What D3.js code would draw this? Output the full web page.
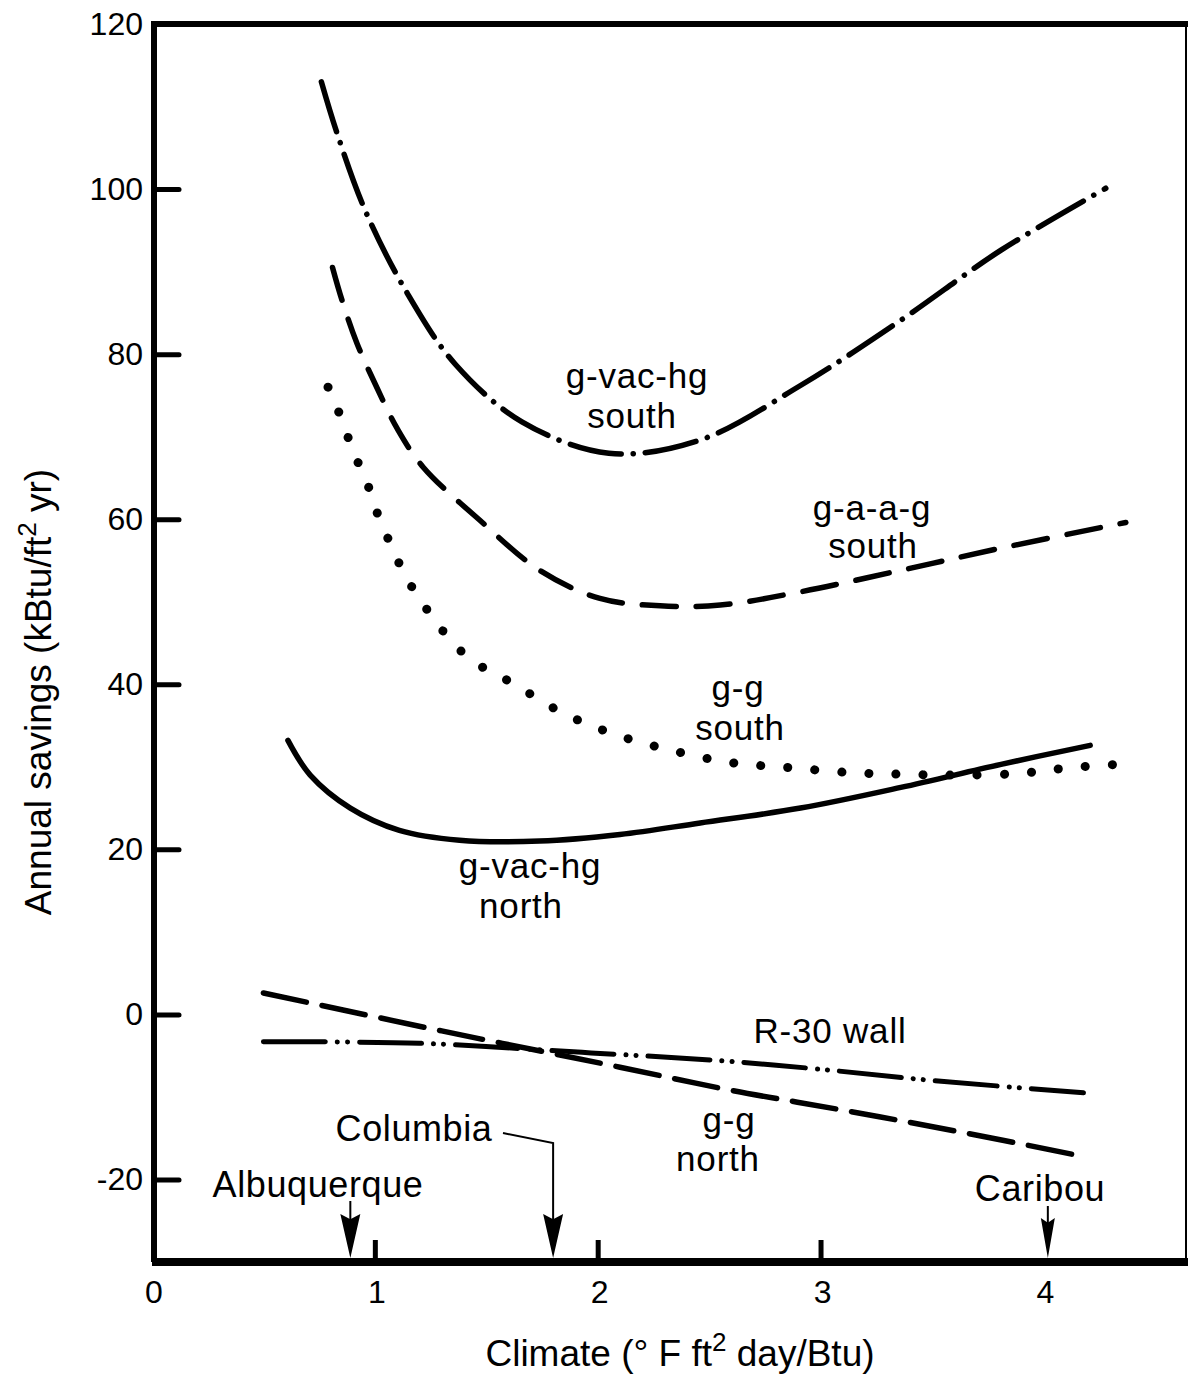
<!DOCTYPE html>
<html><head><meta charset="utf-8">
<script src="https://cdn.jsdelivr.net/npm/d3@7"></script>
<style>body{margin:0;background:#fff}svg{display:block}text{font-family:"Liberation Sans",Arial,sans-serif;fill:#000}</style>
</head><body><svg id="c" width="1188" height="1376"></svg>
<script>
// ---- data (x: climate °F ft² day/Btu, y: kBtu/ft² yr) ----
const yTicks = [100, 80, 60, 40, 20, 0, -20];
const yTickLabels = ["120", "100", "80", "60", "40", "20", "0", "-20"];
const yTickLabelValues = [120, 100, 80, 60, 40, 20, 0, -20];
const xTicks = [1, 2, 3];
const xTickLabels = ["0", "1", "2", "3", "4"];
const xTickLabelValues = [0, 1, 2, 3, 4];
const gVacHgSouth = [[0.76,113],[0.83,106.8],[0.96,97.2],[1.145,87.4],[1.36,78.8],[1.66,71.8],[2.05,68.0],[2.46,69.6],[2.91,76.2],[3.36,84.1],[3.81,92.6],[4.28,100.1]];
const gAagSouth = [[0.81,90.5],[0.853,86.5],[0.92,81.3],[1.01,75.9],[1.10,71.0],[1.217,66.3],[1.47,59.9],[1.74,53.8],[2.01,50.4],[2.28,49.5],[2.55,49.6],[2.91,51.2],[3.36,53.8],[3.81,56.5],[4.37,59.6]];
const ggSouth = [[0.79,76.0],[0.83,73.5],[0.87,70.8],[0.90,68.1],[0.95,65.6],[1.0,61.5],[1.07,57],[1.14,53],[1.23,49.2],[1.32,46],[1.43,43],[1.62,40.1],[1.845,36.5],[2.08,33.9],[2.33,32.0],[2.6,30.5],[2.86,29.9],[3.13,29.3],[3.37,29.1],[3.61,29.0],[3.89,29.2],[4.12,29.9],[4.34,30.3]];
const gVacHgNorth = [[0.61,33.2],[0.71,29.0],[0.89,25.0],[1.11,22.3],[1.38,21.1],[1.74,21.0],[2.1,21.8],[2.46,23.2],[2.91,25.0],[3.36,27.5],[3.81,30.3],[4.21,32.6]];
const ggNorth = [[0.5,2.6],[1.3,-2.0],[2.1,-6.4],[2.6,-9.2],[3.1,-11.6],[3.6,-14.1],[4.14,-17.0]];
const r30Wall = [[0.5,-3.3],[1.2,-3.5],[1.93,-4.6],[2.55,-5.6],[2.98,-6.6],[3.5,-8.0],[4.18,-9.5]];
const cityNames = ["Albuquerque", "Columbia", "Caribou"];
const cityClimate = [0.89, 1.80, 4.02];

const svg = d3.select("#c");
const x = d3.scaleLinear().domain([0, 4.64]).range([152, 1186]);
const y = d3.scaleLinear().domain([-30, 120]).range([1262, 24]);

const line = d3.line().x(d=>x(d[0])).y(d=>y(d[1])).curve(d3.curveCatmullRom.alpha(0.5));

function curve(data, dash, w){
  svg.append("path").attr("d", line(data)).attr("fill","none").attr("stroke","#000")
    .attr("stroke-width", w).attr("stroke-dasharray", dash).attr("stroke-linecap", "round");
}
curve(gVacHgSouth, "52 12 0.1 12", 5.5);
curve(gAagSouth, "34 20", 5.5);
curve(ggSouth, "0.1 27", 9);
curve(gVacHgNorth, null, 5.5);
curve(ggNorth, "44 16", 5.5);
curve(r30Wall, "62 12 0.1 10 0.1 12", 5);

// frame
svg.append("line").attr("x1",x(0)).attr("x2",1188).attr("y1",y(120)).attr("y2",y(120)).attr("stroke","#000").attr("stroke-width",6);
svg.append("line").attr("x1",1186).attr("x2",1186).attr("y1",y(120)).attr("y2",y(-30)).attr("stroke","#000").attr("stroke-width",2);

// axes via d3
const yAxis = d3.axisRight(y).tickValues(yTicks).tickFormat("").tickSizeInner(25).tickSizeOuter(0);
const gy = svg.append("g").attr("transform",`translate(${x(0)+2},0)`).call(yAxis);
gy.select(".domain").remove();
gy.selectAll(".tick line").attr("stroke","#000").attr("stroke-width",5).attr("stroke-linecap","round");
svg.append("line").attr("x1",x(0)+2).attr("x2",x(0)+2).attr("y1",y(120)-3).attr("y2",y(-30)).attr("stroke","#000").attr("stroke-width",6);

const xAxis = d3.axisTop(x).tickValues(xTicks).tickFormat("").tickSizeInner(22).tickSizeOuter(0);
const gx = svg.append("g").attr("transform",`translate(0,${y(-30)})`).call(xAxis);
gx.select(".domain").remove();
gx.selectAll(".tick line").attr("stroke","#000").attr("stroke-width",5);
svg.append("line").attr("x1",x(0)).attr("x2",1188).attr("y1",y(-30)).attr("y2",y(-30)).attr("stroke","#000").attr("stroke-width",8);

// tick labels
svg.selectAll(".yl").data(yTickLabelValues).enter().append("text")
  .attr("x",143).attr("y",d=>y(d)+11).attr("text-anchor","end").attr("font-size",32)
  .text((d,i)=>yTickLabels[i]);
svg.selectAll(".xl").data(xTickLabelValues).enter().append("text")
  .attr("x",d=>x(d)+2).attr("y",1303).attr("text-anchor","middle").attr("font-size",32)
  .text((d,i)=>xTickLabels[i]);

// axis titles
svg.append("text").attr("x",680).attr("y",1366).attr("text-anchor","middle").attr("font-size",37)
  .html('Climate (° F ft<tspan dy="-15" font-size="26">2</tspan><tspan dy="15"> day/Btu)</tspan>');
svg.append("text").attr("transform","translate(51,692) rotate(-90)").attr("text-anchor","middle").attr("font-size",37)
  .html('Annual savings (kBtu/ft<tspan dy="-15" font-size="26">2</tspan><tspan dy="15"> yr)</tspan>');

// curve labels
const labelText = ["g-vac-hg","south","g-a-a-g","south","g-g","south","g-vac-hg","north","R-30 wall","g-g","north"];
const labelPos = [[637,388],[632,428],[872,520],[873,558],[738,700],[740,740],[530,878],[521,918],[830,1043],[729,1132],[718,1171]];
svg.selectAll(".lab").data(labelText).enter().append("text")
  .attr("x",(d,i)=>labelPos[i][0]).attr("y",(d,i)=>labelPos[i][1]).attr("text-anchor","middle")
  .attr("font-size",35).attr("letter-spacing",0.8).text(d=>d);

// city markers
function arrowHead(xp, headH, headW){
  const yb = y(-30)-4, yt = yb-headH;
  svg.append("path").attr("d",`M${xp-headW/2},${yt} L${xp},${yt+headH*0.12} L${xp+headW/2},${yt} L${xp},${yb} Z`).attr("fill","#000");
}
// Albuquerque
svg.append("text").attr("x",318).attr("y",1197).attr("text-anchor","middle").attr("font-size",36).attr("letter-spacing",0.6).text(cityNames[0]);
svg.append("line").attr("x1",x(cityClimate[0])).attr("x2",x(cityClimate[0])).attr("y1",1201).attr("y2",1230).attr("stroke","#000").attr("stroke-width",2);
arrowHead(x(cityClimate[0]), 44, 20);
// Columbia
svg.append("text").attr("x",414).attr("y",1141).attr("text-anchor","middle").attr("font-size",36).attr("letter-spacing",0.6).text(cityNames[1]);
svg.append("path").attr("d",`M503,1133 L${x(cityClimate[1])},1143 L${x(cityClimate[1])},1225`).attr("fill","none").attr("stroke","#000").attr("stroke-width",2);
arrowHead(x(cityClimate[1]), 44, 20);
// Caribou
svg.append("text").attr("x",1040).attr("y",1201).attr("text-anchor","middle").attr("font-size",36).attr("letter-spacing",0.6).text(cityNames[2]);
svg.append("line").attr("x1",x(cityClimate[2])).attr("x2",x(cityClimate[2])).attr("y1",1206).attr("y2",1230).attr("stroke","#000").attr("stroke-width",2);
arrowHead(x(cityClimate[2]), 40, 14);
</script></body></html>
